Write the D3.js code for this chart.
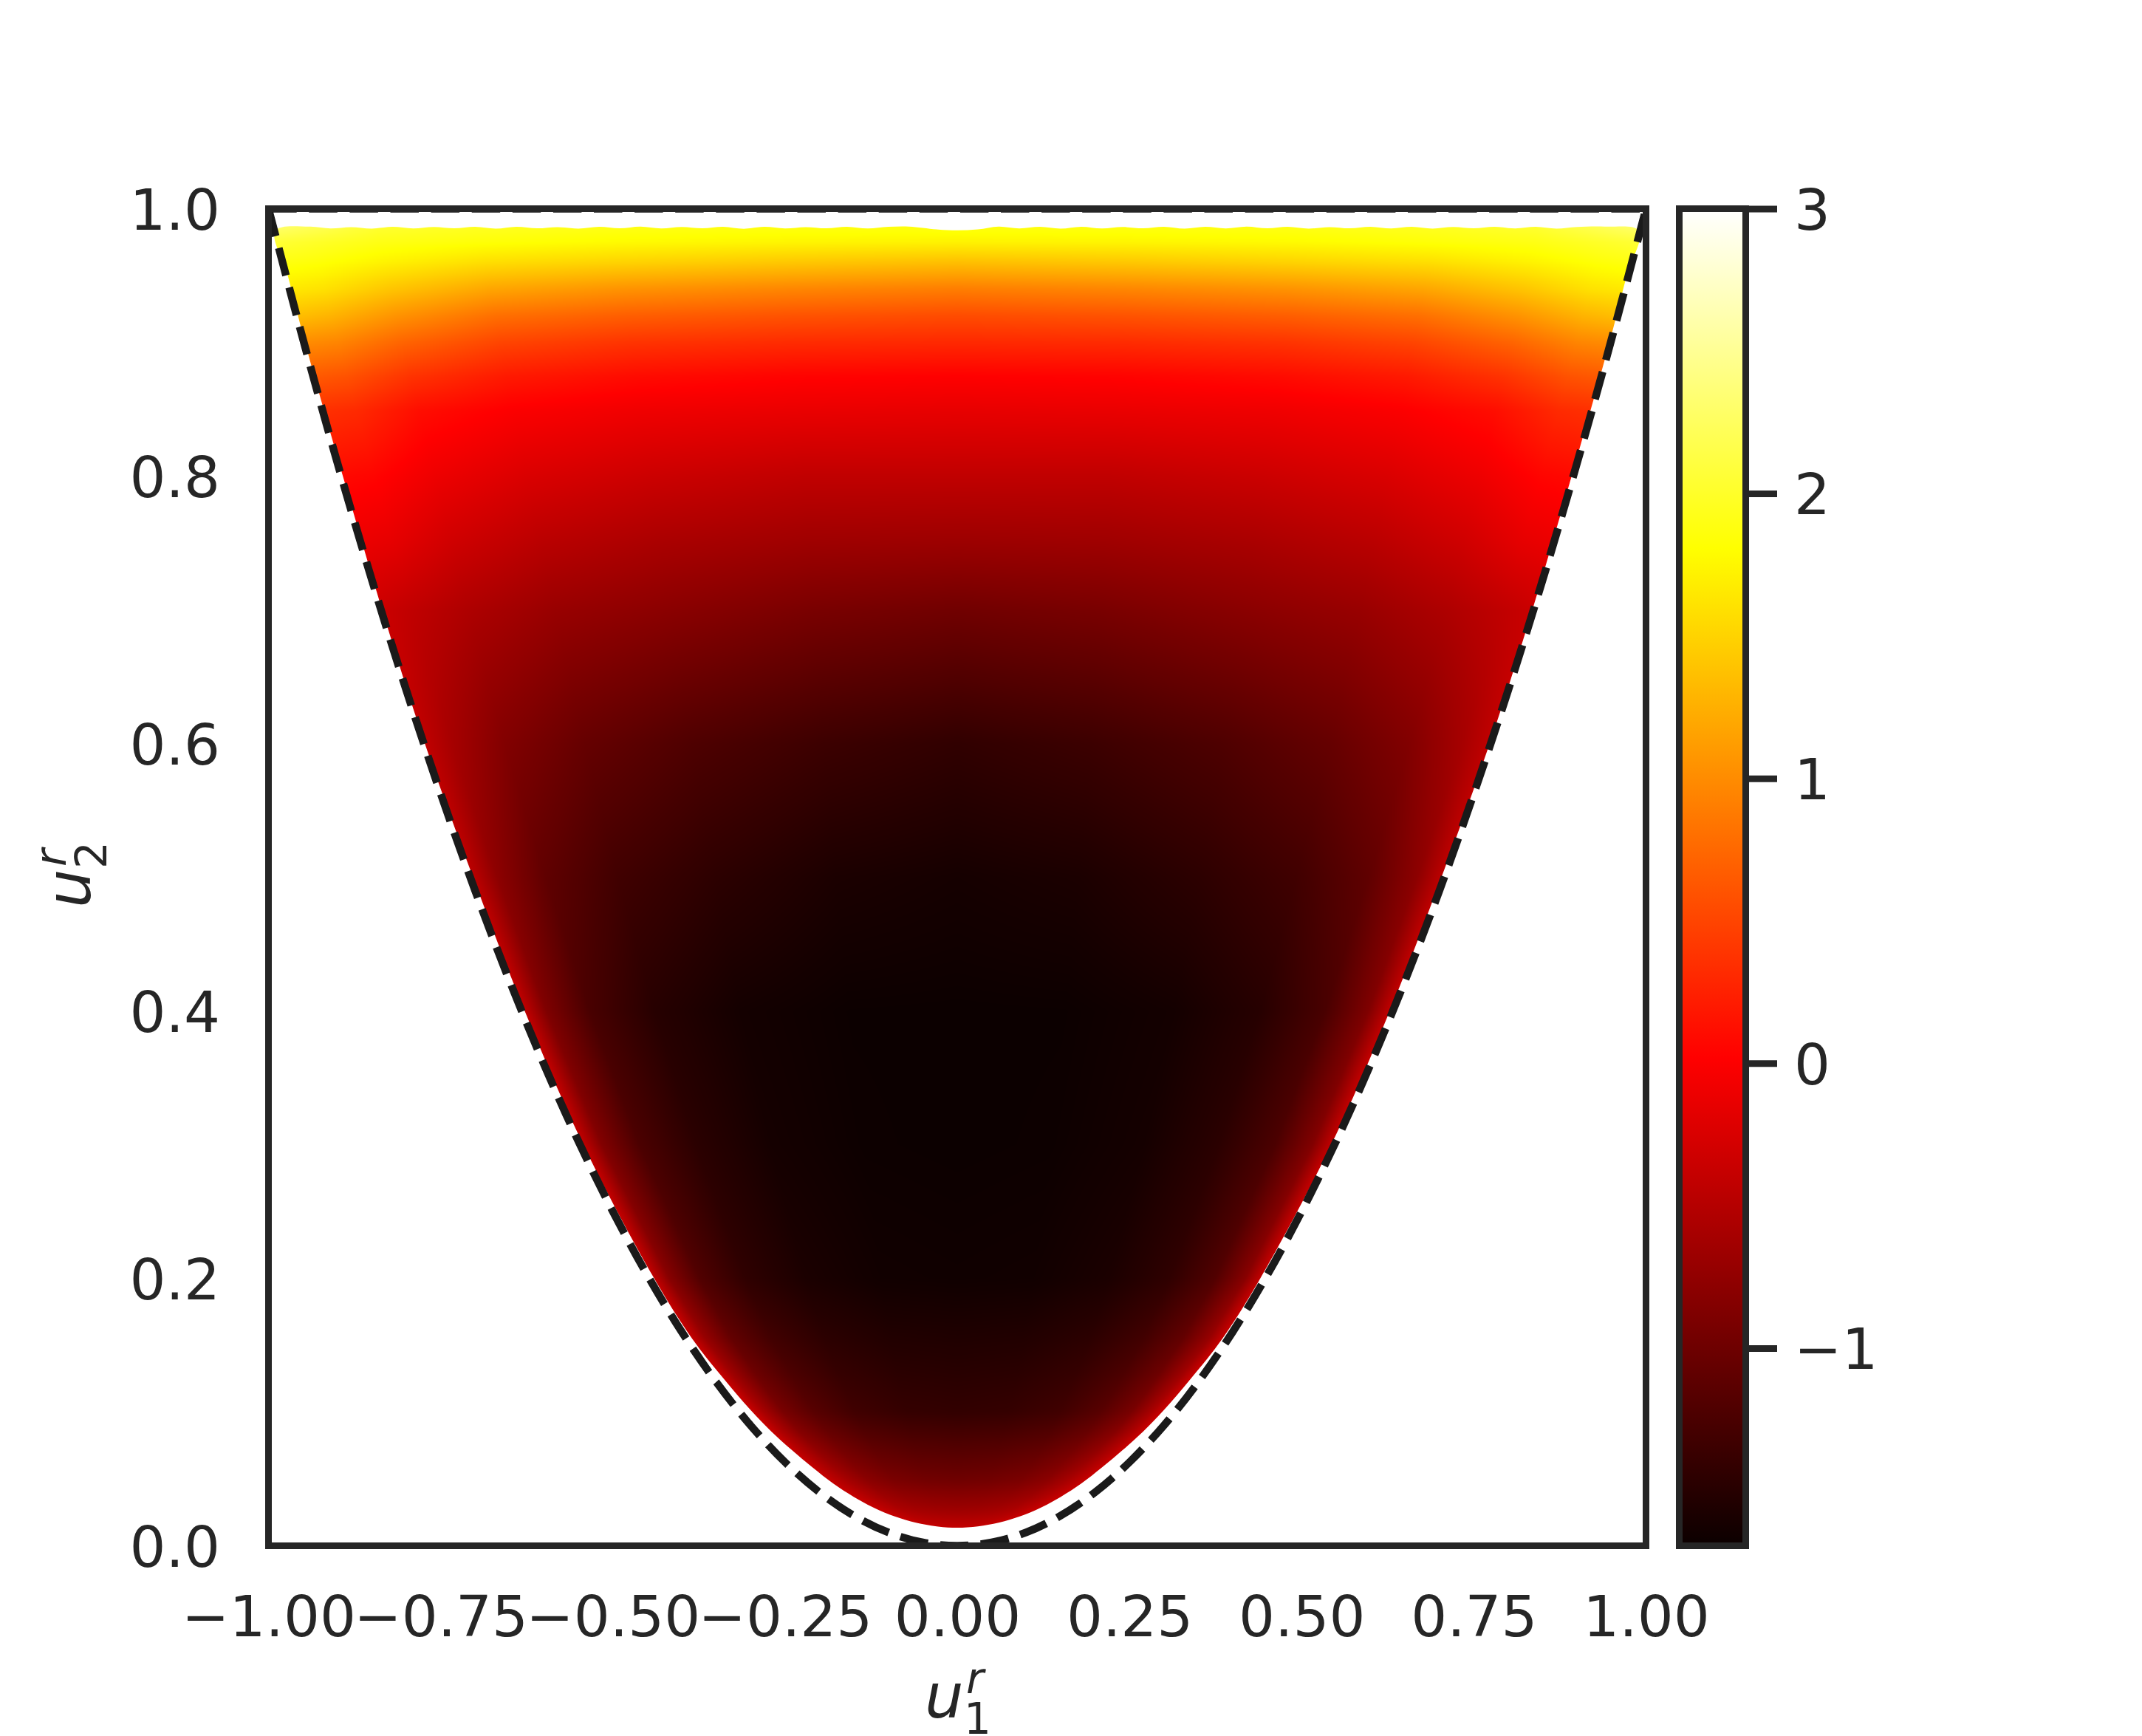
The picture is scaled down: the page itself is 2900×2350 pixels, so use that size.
<!DOCTYPE html>
<html>
<head>
<meta charset="utf-8">
<style>
    html, body { margin: 0; padding: 0; background: #ffffff; }
    svg { display: block; }
    text { font-family: "DejaVu Sans", sans-serif; fill: #262626; }
</style>
<script src="https://cdnjs.cloudflare.com/ajax/libs/d3/7.8.5/d3.min.js"></script>
</head>
<body>
<svg id="chart" width="2900" height="2350"></svg>
<script>
// tick labels
var xTicks = [-1, -0.75, -0.5, -0.25, 0, 0.25, 0.5, 0.75, 1];
var yTicks = [0, 0.2, 0.4, 0.6, 0.8, 1];
var barTicks = [-1, 0, 1, 2, 3];

// colour range
var valueMin = -1.694;
var valueMax = 3;
var hotStops = [0, 0.365, 0.746, 1];
var hotColors = ['#0b0000', '#ff0000', '#ffff00', '#ffffff'];

// field: one row per u2 level, one column per
// fraction of the way from the centre line to the edge of the filled area
var fieldU2 = [0.0135, 0.025, 0.05, 0.1, 0.2, 0.3, 0.4, 0.5, 0.6, 0.7, 0.75, 0.8, 0.85, 0.875, 0.9, 0.92, 0.94, 0.96, 0.975, 0.988];
var fieldT = [0, 0.25, 0.5, 0.7, 0.85, 0.95, 1];
var fieldValues = [
    [-0.40, -0.40, -0.40, -0.40, -0.40, -0.38, -0.37],
    [-0.64, -0.63, -0.60, -0.55, -0.47, -0.40, -0.37],
    [-1.00, -0.98, -0.92, -0.80, -0.62, -0.47, -0.38],
    [-1.42, -1.40, -1.32, -1.15, -0.92, -0.58, -0.36],
    [-1.66, -1.65, -1.58, -1.44, -1.20, -0.82, -0.42],
    [-1.69, -1.68, -1.62, -1.47, -1.24, -0.86, -0.42],
    [-1.69, -1.685, -1.63, -1.50, -1.26, -0.88, -0.42],
    [-1.62, -1.58, -1.46, -1.32, -1.10, -0.78, -0.45],
    [-1.43, -1.35, -1.22, -1.06, -0.86, -0.60, -0.42],
    [-0.98, -0.92, -0.80, -0.70, -0.55, -0.42, -0.35],
    [-0.68, -0.66, -0.58, -0.47, -0.32, -0.16, -0.12],
    [-0.42, -0.42, -0.34, -0.24, -0.10, 0.05, 0.08],
    [-0.14, -0.12, -0.08, 0.00, 0.12, 0.32, 0.36],
    [0.02, 0.04, 0.10, 0.20, 0.38, 0.60, 0.65],
    [0.30, 0.32, 0.38, 0.50, 0.72, 0.95, 1.00],
    [0.55, 0.60, 0.68, 0.80, 1.05, 1.28, 1.35],
    [0.90, 0.96, 1.05, 1.18, 1.40, 1.60, 1.65],
    [1.36, 1.42, 1.50, 1.58, 1.72, 1.84, 1.88],
    [1.72, 1.74, 1.78, 1.84, 1.90, 2.00, 2.05],
    [1.90, 1.90, 1.92, 1.98, 2.05, 2.25, 2.35]
];

// edge of the filled area
var edgeU2 = [0.0135, 0.0145, 0.0172, 0.0218, 0.0282, 0.0365, 0.0465, 0.0585, 0.0715, 0.0855, 0.1015, 0.1255, 0.155, 0.2, 0.3, 0.4, 0.5, 0.6, 0.7, 0.8, 0.9, 0.95, 0.9835];
var edgeHalf = [0, 0.03, 0.06, 0.09, 0.12, 0.15, 0.18, 0.21, 0.24, 0.27, 0.30, 0.34, 0.385, 0.44, 0.543, 0.628, 0.703, 0.773, 0.835, 0.892, 0.947, 0.972, 0.99];

// scalloped top of the filled area
var topU1 = [-0.94, -0.91, -0.88, -0.85, -0.82, -0.79, -0.76, -0.73, -0.70, -0.67, -0.64, -0.61, -0.58, -0.55, -0.52, -0.49, -0.46, -0.43, -0.40, -0.37, -0.34, -0.31, -0.28, -0.25, -0.22, -0.19, -0.16, -0.13, -0.10, -0.07, -0.03, 0, 0.03, 0.06, 0.09, 0.12, 0.15, 0.18, 0.21, 0.24, 0.27, 0.30, 0.33, 0.36, 0.39, 0.42, 0.45, 0.48, 0.51, 0.54, 0.57, 0.60, 0.63, 0.66, 0.69, 0.72, 0.75, 0.78, 0.81, 0.84, 0.87, 0.90, 0.94];
var topU2 = [0.9866, 0.9852, 0.9862, 0.9851, 0.9864, 0.9852, 0.9863, 0.9853, 0.9864, 0.9851, 0.9865, 0.9853, 0.9862, 0.9851, 0.9864, 0.9853, 0.9866, 0.9852, 0.9863, 0.9853, 0.9865, 0.9850, 0.9864, 0.9852, 0.9862, 0.9853, 0.9865, 0.9852, 0.9864, 0.9866, 0.9845, 0.9838, 0.9845, 0.9866, 0.9852, 0.9864, 0.9851, 0.9865, 0.9852, 0.9863, 0.9853, 0.9865, 0.9851, 0.9864, 0.9852, 0.9866, 0.9853, 0.9864, 0.9851, 0.9862, 0.9853, 0.9865, 0.9852, 0.9864, 0.9851, 0.9863, 0.9853, 0.9865, 0.9852, 0.9864, 0.9851, 0.9863, 0.9866];

// dashed boundary
var curveU1 = [-1, -0.95, -0.9, -0.85, -0.8, -0.75, -0.7, -0.65, -0.6, -0.55, -0.5, -0.45, -0.4, -0.35, -0.3, -0.25, -0.2, -0.15, -0.1, -0.05, 0, 0.05, 0.1, 0.15, 0.2, 0.25, 0.3, 0.35, 0.4, 0.45, 0.5, 0.55, 0.6, 0.65, 0.7, 0.75, 0.8, 0.85, 0.9, 0.95, 1];
var curveU2 = [1, 0.9025, 0.81, 0.7225, 0.64, 0.5625, 0.49, 0.4225, 0.36, 0.3025, 0.25, 0.2025, 0.16, 0.1225, 0.09, 0.0625, 0.04, 0.0225, 0.01, 0.0025, 0, 0.0025, 0.01, 0.0225, 0.04, 0.0625, 0.09, 0.1225, 0.16, 0.2025, 0.25, 0.3025, 0.36, 0.4225, 0.49, 0.5625, 0.64, 0.7225, 0.81, 0.9025, 1];
var closeU1 = [1, -1];
var closeU2 = [1, 1];

var inkColor = '#262626';
var dashColor = '#1a1a1a';
var fontSize = 77;

var svg = d3.select('#chart');

var scaleX = d3.scaleLinear().domain([-1, 1]).range([363.5, 2228.5]);
var scaleY = d3.scaleLinear().domain([0, 1]).range([2092.5, 282.5]);
var scaleBar = d3.scaleLinear().domain([valueMin, valueMax]).range([2092.5, 282.5]);

var hot = d3.scaleLinear()
    .domain(hotStops.map(function(p) { return valueMin + p * (valueMax - valueMin); }))
    .range(hotColors);

var defs = svg.append('defs');

// filled area outline
var regionPoints = [];
edgeU2.forEach(function(v, i) { regionPoints.push([-edgeHalf[i], v]); });
topU1.forEach(function(v, i) { regionPoints.push([v, topU2[i]]); });
for (var k = edgeU2.length - 1; k > 0; k--) {
    regionPoints.push([edgeHalf[k], edgeU2[k]]);
}
var regionLine = d3.line()
    .x(function(d) { return scaleX(d[0]); })
    .y(function(d) { return scaleY(d[1]); })
    .curve(d3.curveCatmullRomClosed.alpha(0.5));

defs.append('clipPath').attr('id', 'region')
    .append('path').attr('d', regionLine(regionPoints));
defs.append('clipPath').attr('id', 'axes-box')
    .append('rect')
    .attr('x', scaleX(-1)).attr('y', scaleY(1))
    .attr('width', scaleX(1) - scaleX(-1))
    .attr('height', scaleY(0) - scaleY(1));

// shade the field, a pixel at a time, through the scales
function shadeField() {
    var left = Math.floor(scaleX(-1));
    var top = Math.floor(scaleY(1));
    var w = Math.ceil(scaleX(1)) - left;
    var h = Math.ceil(scaleY(0)) - top;
    var canvas = document.createElement('canvas');
    canvas.width = w;
    canvas.height = h;
    var ctx = canvas.getContext('2d');
    var img = ctx.createImageData(w, h);

    var rowOf = d3.scaleLinear().domain(fieldU2).range(d3.range(fieldU2.length)).clamp(true);
    var colOf = d3.scaleLinear().domain(fieldT).range(d3.range(fieldT.length)).clamp(true);
    var halfOf = d3.scaleLinear().domain(edgeU2).range(edgeHalf).clamp(true);

    var lutSize = 2048;
    var lut = d3.range(lutSize).map(function(i) {
        return d3.rgb(hot(valueMin + (i / (lutSize - 1)) * (valueMax - valueMin)));
    });

    for (var py = 0; py < h; py++) {
        var u2 = scaleY.invert(top + py + 0.5);
        var half = halfOf(u2);
        var rf = rowOf(u2);
        var r0 = Math.min(Math.floor(rf), fieldU2.length - 2);
        var rt = rf - r0;
        for (var px = 0; px < w; px++) {
            var u1 = Math.abs(scaleX.invert(left + px + 0.5));
            var t = half > 0 ? u1 / half : 0;
            var cf = colOf(t);
            var c0 = Math.min(Math.floor(cf), fieldT.length - 2);
            var ct = cf - c0;
            var a = fieldValues[r0][c0] * (1 - ct) + fieldValues[r0][c0 + 1] * ct;
            var b = fieldValues[r0 + 1][c0] * (1 - ct) + fieldValues[r0 + 1][c0 + 1] * ct;
            var v = a * (1 - rt) + b * rt;
            var li = Math.max(0, Math.min(lutSize - 1, Math.round((v - valueMin) / (valueMax - valueMin) * (lutSize - 1))));
            var col = lut[li];
            var o = (py * w + px) * 4;
            img.data[o] = col.r;
            img.data[o + 1] = col.g;
            img.data[o + 2] = col.b;
            img.data[o + 3] = 255;
        }
    }
    ctx.putImageData(img, 0, 0);

    svg.append('image')
        .attr('x', left).attr('y', top)
        .attr('width', w).attr('height', h)
        .attr('href', canvas.toDataURL('image/png'))
        .attr('clip-path', 'url(#region)');
}
shadeField();

// dashed boundary, closed along the top
var curvePath = d3.line()
    .x(function(d) { return scaleX(d[0]); })
    .y(function(d) { return scaleY(d[1]); })
    .curve(d3.curveCatmullRom.alpha(0.5));
var closePath = d3.line()
    .x(function(d) { return scaleX(d[0]); })
    .y(function(d) { return scaleY(d[1]); });
var curveD = curvePath(curveU1.map(function(v, i) { return [v, curveU2[i]]; }));
var closeD = closePath(closeU1.map(function(v, i) { return [v, closeU2[i]]; }));

svg.append('path')
    .attr('d', curveD + closeD.replace('M', 'L'))
    .attr('fill', 'none')
    .attr('stroke', dashColor)
    .attr('stroke-width', 10.4)
    .attr('stroke-dasharray', '38.5 16.6')
    .attr('clip-path', 'url(#axes-box)');

// frame of the plot
svg.append('rect')
    .attr('x', scaleX(-1)).attr('y', scaleY(1))
    .attr('width', scaleX(1) - scaleX(-1))
    .attr('height', scaleY(0) - scaleY(1))
    .attr('fill', 'none')
    .attr('stroke', inkColor)
    .attr('stroke-width', 9);

// axes: labels only, no tick marks
var xAxis = d3.axisBottom(scaleX)
    .tickValues(xTicks)
    .tickSize(0)
    .tickPadding(67.5)
    .tickFormat(d3.format('.2f'));
var yAxis = d3.axisLeft(scaleY)
    .tickValues(yTicks)
    .tickSize(0)
    .tickPadding(65.5)
    .tickFormat(d3.format('.1f'));

svg.append('g').attr('transform', 'translate(0,' + scaleY(0) + ')').call(xAxis)
    .call(function(g) { g.select('.domain').remove(); });
svg.append('g').attr('transform', 'translate(' + scaleX(-1) + ',0)').call(yAxis)
    .call(function(g) { g.select('.domain').remove(); })
    .call(function(g) { g.selectAll('text').attr('dy', '0.36em'); });

// colorbar
var barLeft = 2273.5;
var barRight = 2363.5;
var grad = defs.append('linearGradient')
    .attr('id', 'hot-bar')
    .attr('x1', 0).attr('x2', 0).attr('y1', 1).attr('y2', 0);
grad.selectAll('stop').data(hotStops).enter().append('stop')
    .attr('offset', function(d) { return d; })
    .attr('stop-color', function(d, i) { return hotColors[i]; });

svg.append('rect')
    .attr('x', barLeft).attr('y', scaleBar(valueMax))
    .attr('width', barRight - barLeft)
    .attr('height', scaleBar(valueMin) - scaleBar(valueMax))
    .attr('fill', 'url(#hot-bar)')
    .attr('stroke', inkColor)
    .attr('stroke-width', 9);

var barAxis = d3.axisRight(scaleBar)
    .tickValues(barTicks)
    .tickSize(42.5)
    .tickPadding(23)
    .tickFormat(d3.format('d'));
svg.append('g').attr('transform', 'translate(' + barRight + ',0)').call(barAxis)
    .call(function(g) { g.select('.domain').remove(); })
    .call(function(g) { g.selectAll('text').attr('dy', '0.36em'); })
    .call(function(g) { g.selectAll('line').attr('stroke', inkColor).attr('stroke-width', 9); });

svg.selectAll('.tick text')
    .attr('font-size', fontSize)
    .attr('font-family', '"DejaVu Sans", sans-serif')
    .attr('fill', inkColor);

// axis titles
function mathLabel(g, sub) {
    var t = g.append('text').attr('font-style', 'italic');
    t.append('tspan').attr('x', 0).attr('y', 0).attr('font-size', 83).text('u');
    t.append('tspan').attr('x', 56).attr('y', -33).attr('font-size', 58).text('r');
    t.append('tspan').attr('x', 53).attr('y', 22).attr('font-size', 58)
        .attr('font-style', 'normal').text(sub);
}
mathLabel(svg.append('g').attr('transform', 'translate(1252,2325)'), '1');
mathLabel(svg.append('g').attr('transform', 'translate(122,1229) rotate(-90)'), '2');
</script>
</body>
</html>
